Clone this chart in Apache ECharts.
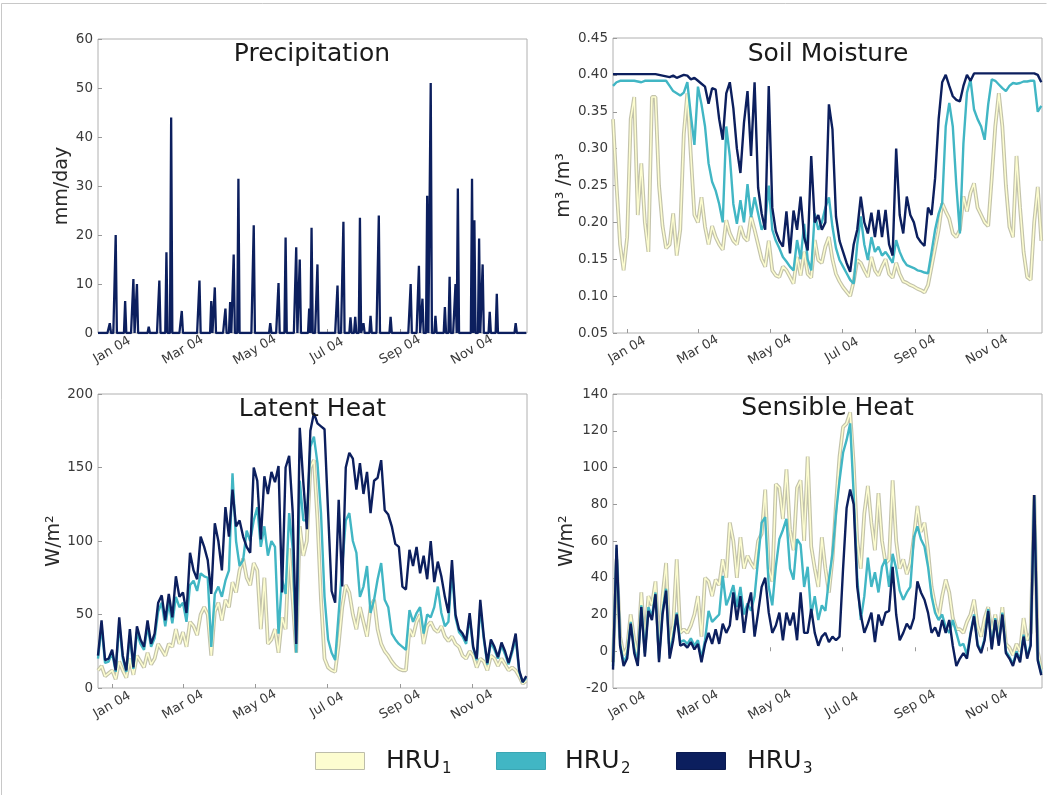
<!DOCTYPE html>
<html><head><meta charset="utf-8">
<script src="https://cdn.jsdelivr.net/npm/echarts@6/dist/echarts.min.js"></script>
<style>html,body{margin:0;padding:0;background:#fff}#c{width:1048px;height:796px}</style>
</head><body><div id="c"></div>
<script>
// ---------- data ----------
const START_DATE = '2003-12-20';
const END_DAY = 363.6;          // right edge of the x range, days after START_DATE
const STEP_DAYS = 3;            // sampling step of the HRU series
const tickDates = ['2004-01-01','2004-03-01','2004-05-01','2004-07-01','2004-09-01','2004-11-01'];
const tickLabels = ['Jan 04','Mar 04','May 04','Jul 04','Sep 04','Nov 04'];
const seriesNames = ['HRU1','HRU2','HRU3'];
const panelTitles = ['Precipitation','Soil Moisture','Latent Heat','Sensible Heat'];

// precipitation events (day after START_DATE, mm/day); other days are 0
const precipDays   = [10,15,23,30,33,43,52,58,62,71,86,96,99,108,112,115,119,132,146,153,159,168,171,179,181,186,203,208,214,218,222,225,231,238,248,265,272,275,279,282,286,294,298,303,305,317,319,323,326,332,338,354];
const precipValues = [2,20,6.5,11,10,1.3,10.7,16.5,44,4.5,10.7,6.5,9.3,5,6.3,16,31.5,22,2,10.2,19.5,17.5,15,5,21.5,14,9.7,22.7,3.2,3.3,23.5,2,3.5,24,3.3,10,13.7,7,28,51,3.5,5.3,11.5,10,29.5,31.5,23,19.3,14,4.3,8,2];

// soil moisture (m3/m3), every 3 days
const soilHRU1 = [0.340,0.250,0.170,0.135,0.180,0.340,0.370,0.210,0.280,0.200,
 0.160,0.370,0.370,0.250,0.195,0.165,0.170,0.212,0.155,0.190,
 0.320,0.375,0.290,0.210,0.200,0.234,0.194,0.170,0.195,0.180,
 0.170,0.163,0.203,0.185,0.175,0.170,0.195,0.180,0.175,0.208,
 0.190,0.170,0.150,0.140,0.175,0.135,0.128,0.126,0.140,0.135,
 0.126,0.117,0.153,0.128,0.160,0.130,0.125,0.176,0.149,0.145,
 0.167,0.180,0.150,0.130,0.120,0.112,0.106,0.100,0.120,0.149,
 0.145,0.135,0.126,0.153,0.135,0.128,0.140,0.150,0.130,0.125,
 0.145,0.130,0.120,0.118,0.115,0.113,0.110,0.108,0.105,0.115,
 0.140,0.165,0.190,0.226,0.215,0.205,0.185,0.180,0.190,0.235,
 0.215,0.240,0.253,0.220,0.210,0.200,0.195,0.260,0.330,0.375,
 0.330,0.250,0.194,0.180,0.290,0.220,0.160,0.126,0.122,0.200,
 0.248,0.175];
const soilHRU2 = [0.385,0.390,0.392,0.392,0.392,0.392,0.392,0.391,0.390,0.392,
 0.392,0.392,0.392,0.392,0.392,0.392,0.385,0.378,0.375,0.372,
 0.376,0.390,0.345,0.305,0.384,0.360,0.330,0.280,0.255,0.243,
 0.225,0.200,0.330,0.290,0.225,0.198,0.230,0.200,0.252,0.207,
 0.234,0.212,0.190,0.200,0.250,0.190,0.175,0.165,0.153,0.147,
 0.140,0.135,0.176,0.150,0.198,0.150,0.135,0.212,0.190,0.200,
 0.220,0.234,0.194,0.165,0.149,0.140,0.131,0.122,0.117,0.170,
 0.208,0.170,0.149,0.180,0.160,0.167,0.155,0.160,0.153,0.145,
 0.176,0.160,0.149,0.142,0.140,0.138,0.135,0.134,0.132,0.131,
 0.160,0.190,0.212,0.226,0.330,0.362,0.330,0.250,0.185,0.307,
 0.376,0.394,0.353,0.340,0.330,0.312,0.360,0.394,0.392,0.387,
 0.382,0.378,0.385,0.389,0.388,0.389,0.391,0.391,0.392,0.392,
 0.350,0.358];
const soilHRU3 = [0.401,0.401,0.401,0.401,0.401,0.401,0.401,0.401,0.401,0.401,
 0.401,0.401,0.401,0.400,0.399,0.398,0.397,0.399,0.396,0.398,
 0.400,0.399,0.394,0.396,0.392,0.388,0.384,0.361,0.382,0.380,
 0.340,0.312,0.375,0.390,0.355,0.300,0.267,0.335,0.378,0.290,
 0.390,0.247,0.212,0.190,0.385,0.220,0.188,0.175,0.167,0.215,
 0.158,0.216,0.190,0.235,0.180,0.162,0.290,0.200,0.210,0.190,
 0.200,0.360,0.326,0.208,0.175,0.160,0.145,0.133,0.170,0.190,
 0.235,0.200,0.185,0.213,0.180,0.217,0.180,0.217,0.170,0.155,
 0.300,0.210,0.185,0.235,0.210,0.200,0.180,0.173,0.168,0.220,
 0.210,0.260,0.340,0.390,0.400,0.385,0.371,0.366,0.364,0.385,
 0.400,0.392,0.402,0.402,0.402,0.402,0.402,0.402,0.402,0.402,
 0.402,0.402,0.402,0.402,0.402,0.402,0.402,0.402,0.402,0.402,
 0.400,0.390];

// latent heat (W/m2), every 3 days
const latentHRU1 = [12,15,8,10,12,6,18,12,7,20,
 9,22,18,14,24,16,20,30,26,22,
 30,28,40,30,38,28,45,42,36,50,
 55,50,22,52,58,46,60,55,72,65,
 80,88,75,70,85,80,40,75,30,33,
 40,24,48,40,95,60,24,110,90,100,
 150,155,115,60,20,14,12,11,30,55,
 70,65,50,40,55,45,35,55,60,40,
 30,25,22,18,15,13,12,12,40,35,
 45,50,30,42,45,40,38,42,35,32,
 35,30,28,22,20,25,22,14,20,18,
 12,22,20,15,20,16,12,14,12,8,
 3,5];
const latentHRU2 = [20,42,17,18,24,11,44,20,11,36,
 13,38,30,26,42,28,34,52,58,42,
 58,44,62,55,58,45,70,73,66,78,
 76,75,28,64,69,62,73,80,146,100,
 83,87,107,100,114,123,96,110,90,100,
 96,37,74,64,119,95,24,141,114,114,
 164,171,153,119,62,33,24,19,51,83,
 114,119,100,92,62,69,83,51,60,74,
 85,60,55,37,33,30,28,26,53,45,
 51,55,37,50,48,55,69,51,42,45,
 80,48,38,35,30,48,27,19,55,33,
 16,31,26,20,29,23,16,24,34,11,
 4,7];
const latentHRU3 = [22,46,19,20,26,12,48,22,12,40,
 14,42,33,28,46,30,37,58,63,46,
 64,48,76,62,65,51,92,80,74,103,
 96,87,64,112,100,80,123,103,135,110,
 114,103,96,92,150,141,101,144,132,147,
 140,151,65,150,158,120,30,177,140,108,
 175,187,180,178,176,120,66,58,128,69,
 150,160,156,135,153,132,147,119,141,143,
 155,121,118,110,98,96,69,67,94,83,
 96,78,90,74,100,72,86,76,62,51,
 87,50,40,37,32,51,28,20,60,35,
 17,33,28,21,31,25,17,26,37,12,
 4,8];

// sensible heat (W/m2), every 3 days
const sensibleHRU1 = [-6,50,8,-2,2,20,6,-2,32,4,
 30,25,38,2,30,48,4,14,50,10,
 12,10,14,20,30,8,40,38,30,39,
 36,50,40,70,60,40,62,45,52,48,
 45,60,64,88,45,38,91,89,72,99,
 66,55,89,93,60,106,57,45,35,62,
 45,32,50,80,106,122,124,130,102,60,
 45,75,90,70,55,86,60,48,50,93,
 60,45,50,42,48,62,79,65,70,55,
 35,25,18,30,39,32,18,12,12,10,
 16,20,28,14,8,18,24,10,20,8,
 24,4,2,-2,4,0,18,6,10,85,
 0,-10];
const sensibleHRU2 = [-8,56,4,-6,-2,16,1,-6,25,-1,
 24,19,32,-4,22,34,-2,8,21,5,
 6,4,7,3,6,-4,6,22,16,18,
 20,41,25,30,36,24,35,20,26,22,
 30,50,70,73,35,25,46,61,66,72,
 45,39,61,58,35,46,20,30,17,25,
 22,39,53,75,93,108,115,124,85,40,
 17,30,51,35,43,32,46,50,35,53,
 45,33,28,32,35,62,68,61,57,46,
 30,21,17,20,13,10,17,10,3,4,
 -2,10,20,4,0,7,23,2,18,4,
 21,0,-3,-7,0,-5,9,-3,4,84,
 -4,-12];
const sensibleHRU3 = [-10,58,3,-8,-4,15,-1,-8,24,-3,
 22,17,31,-6,20,33,-4,6,20,3,
 4,2,5,1,4,-6,4,10,4,12,
 4,15,10,14,32,17,30,10,24,32,
 8,21,35,40,21,10,14,21,6,21,
 14,21,6,32,10,10,23,10,3,8,
 10,5,8,6,8,45,78,88,80,35,
 20,10,15,21,5,20,14,21,22,46,
 20,6,10,15,12,18,38,32,28,21,
 10,13,8,17,10,17,3,-8,-4,-1,
 -4,9,19,3,-1,6,22,1,17,3,
 20,-1,-4,-8,-1,-6,8,-4,3,85,
 -5,-13];

// ---------- helpers ----------
const DAY_MS = 86400000;
function dayOf(s){ const p = s.split('-').map(Number); const q = START_DATE.split('-').map(Number);
  return (Date.UTC(p[0],p[1]-1,p[2]) - Date.UTC(q[0],q[1]-1,q[2])) / DAY_MS; }
const tickDays = tickDates.map(dayOf);
function pairs(vals){ return vals.map((v,i)=>[i*STEP_DAYS, v]); }
const precipDaily = [];
for (let d = 0; d <= Math.floor(END_DAY); d++) precipDaily.push([d, 0]);
precipDays.forEach((d,i)=>{ precipDaily[d][1] = precipValues[i]; });

const C1_EDGE = '#c3c3ab', C1 = '#fdfdd0', C2 = '#41b6c4', C3 = '#0c1f5e';
const FONT = 'DejaVu Sans';

const grids = [
  {left:98, top:39, width:429, height:294},
  {left:613, top:38, width:429, height:295},
  {left:98, top:394, width:429, height:294},
  {left:613, top:394, width:429, height:294}
].map(g => Object.assign(g, {show:true, borderColor:'#b0b0b0', borderWidth:1, backgroundColor:'#fff'}));

function xAxis(i){ return {
  gridIndex:i, type:'value', min:0, max:END_DAY,
  axisLine:{show:false}, splitLine:{show:false},
  axisTick:{show:true, inside:true, length:4, customValues:tickDays, lineStyle:{color:'#999'}},
  axisLabel:{customValues:tickDays, rotate:30, align:'center', verticalAlign:'middle', margin:17,
    fontFamily:FONT, fontSize:13, color:'#3a3a3a',
    formatter:(v)=>{ const k = tickDays.findIndex(t=>Math.abs(t-v)<0.01); return k>=0 ? tickLabels[k] : ''; }}
};}
function yAxis(i, min, max, interval, name, gap, fmt){ return {
  gridIndex:i, type:'value', min, max, interval,
  name, nameLocation:'middle', nameGap:gap,
  nameTextStyle:{fontFamily:FONT, fontSize:19, color:'#2a2a2a'},
  axisLine:{show:false}, splitLine:{show:false},
  axisTick:{show:true, inside:true, length:4, lineStyle:{color:'#999'}},
  axisLabel:{fontFamily:FONT, fontSize:13.5, color:'#3a3a3a', margin:5, formatter:fmt}
};}

function hruSeries(idx, v1, v2, v3){
  const base = {type:'line', xAxisIndex:idx, yAxisIndex:idx, showSymbol:false, symbol:'none', animation:false, silent:true};
  return [
    Object.assign({}, base, {name:seriesNames[0]+'_edge', data:pairs(v1), lineStyle:{color:C1_EDGE, width:3.8}, z:2}),
    Object.assign({}, base, {name:seriesNames[0], data:pairs(v1), lineStyle:{color:C1, width:1.5}, z:3}),
    Object.assign({}, base, {name:seriesNames[1], data:pairs(v2), lineStyle:{color:C2, width:2.4}, z:4}),
    Object.assign({}, base, {name:seriesNames[2], data:pairs(v3), lineStyle:{color:C3, width:2.4}, z:5})
  ];
}

const series = [
  {type:'line', name:'Precipitation', xAxisIndex:0, yAxisIndex:0, data:precipDaily, showSymbol:false, symbol:'none',
   lineStyle:{color:C3, width:2.3}, animation:false, silent:true, z:5},
  ...hruSeries(1, soilHRU1, soilHRU2, soilHRU3),
  ...hruSeries(2, latentHRU1, latentHRU2, latentHRU3),
  ...hruSeries(3, sensibleHRU1, sensibleHRU2, sensibleHRU3)
];

const titlePos = [[312,54.5],[828,54.5],[312.5,409],[827.5,408.5]];
const graphics = panelTitles.map((t,i)=>({type:'text', x:titlePos[i][0], y:titlePos[i][1], z:100,
  style:{text:t, font:'25px "DejaVu Sans"', fill:'#1a1a1a', align:'center', verticalAlign:'middle'}}));

// legend drawn as graphic
const legendX = [315, 496, 676];
const legendTextX = [386, 565, 747];
const legendColors = [[C1,'#bdbdaa'],[C2,'#3aa6b3'],[C3,'#0a1a50']];
legendX.forEach((x,i)=>{
  graphics.push({type:'rect', shape:{x:x+0.5, y:752.5, width:49, height:17}, z:100,
    style:{fill:legendColors[i][0], stroke:legendColors[i][1], lineWidth:1}});
  graphics.push({type:'text', x:legendTextX[i], y:761, z:100,
    style:{text:'HRU', font:'25px "DejaVu Sans"', fill:'#1a1a1a', align:'left', verticalAlign:'middle'}});
  graphics.push({type:'text', x:legendTextX[i]+56, y:769, z:100,
    style:{text:String(i+1), font:'15px "DejaVu Sans"', fill:'#1a1a1a', align:'left', verticalAlign:'middle'}});
});
// outer picture frame
graphics.push({type:'polyline', shape:{points:[[1.5,795],[1.5,3.5],[1046.5,3.5]]}, z:0, style:{stroke:'#c8c8c8', lineWidth:1, fill:null}});

const chart = echarts.init(document.getElementById('c'), null, {renderer:'canvas'});
chart.setOption({
  backgroundColor:'#fff',
  animation:false,
  grid:grids,
  xAxis:[0,1,2,3].map(xAxis),
  yAxis:[
    yAxis(0, 0, 60, 10, 'mm/day', 20),
    yAxis(1, 0.05, 0.45, 0.05, 'm³ /m³', 35, v=>v.toFixed(2)),
    yAxis(2, 0, 200, 50, 'W/m²', 34),
    yAxis(3, -20, 140, 20, 'W/m²', 36)
  ],
  series,
  graphic:graphics
});
</script>
</body></html>
